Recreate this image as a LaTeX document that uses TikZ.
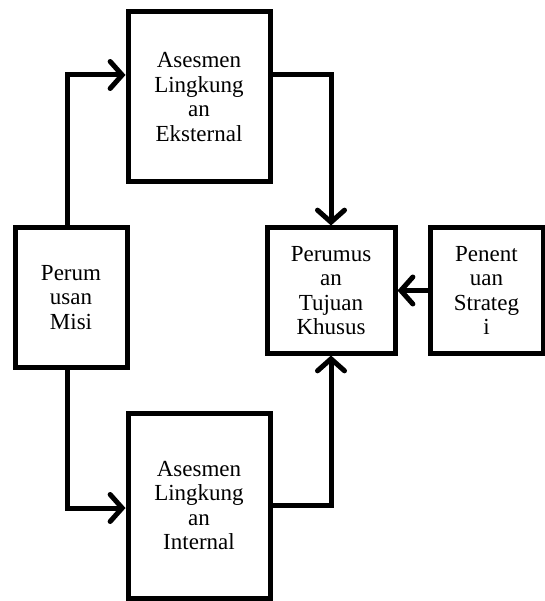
\documentclass[tikz,border=0pt]{standalone}
\usepackage{fontspec}
\setmainfont{Liberation Serif}
\usetikzlibrary{arrows.meta}
\begin{document}
\begin{tikzpicture}[x=1pt,y=-1pt,
  box/.style={draw=black,line width=5pt,fill=white,inner sep=0pt,align=center,
    font=\fontsize{23}{24.5}\selectfont},
  arr/.style={draw=black,line width=5pt,
    -{Straight Barb[length=12pt,width=27pt,line cap=round]}}]
\useasboundingbox (0,0) rectangle (544,601);
\node[box,minimum width=142pt,minimum height=170pt] (ext) at (199,97) {Asesmen\\Lingkung\\an\\Eksternal};
\node[box,minimum width=142pt,minimum height=185pt] (int) at (199,505.5) {Asesmen\\Lingkung\\an\\Internal};
\node[box,minimum width=112pt,minimum height=139pt] (misi) at (71,297.5) {Perum\\usan\\Misi};
\node[box,minimum width=128pt,minimum height=125pt] (tuj) at (331,290.5) {Perumus\\an\\Tujuan\\Khusus};
\node[box,minimum width=113pt,minimum height=125pt] (strat) at (486.5,290.5) {Penent\\uan\\Strateg\\i};
\draw[arr] ([xshift=-4pt]misi.north) |- ([yshift=22pt]ext.west);
\draw[arr] ([xshift=-4pt]misi.south) |- ([yshift=-2.5pt]int.west);
\draw[arr] ([yshift=22pt]ext.east) -| (tuj.north);
\draw[arr] ([yshift=0pt]int.east) -| (tuj.south);
\draw[arr] (strat.west) -- (tuj.east);
\end{tikzpicture}
\end{document}
